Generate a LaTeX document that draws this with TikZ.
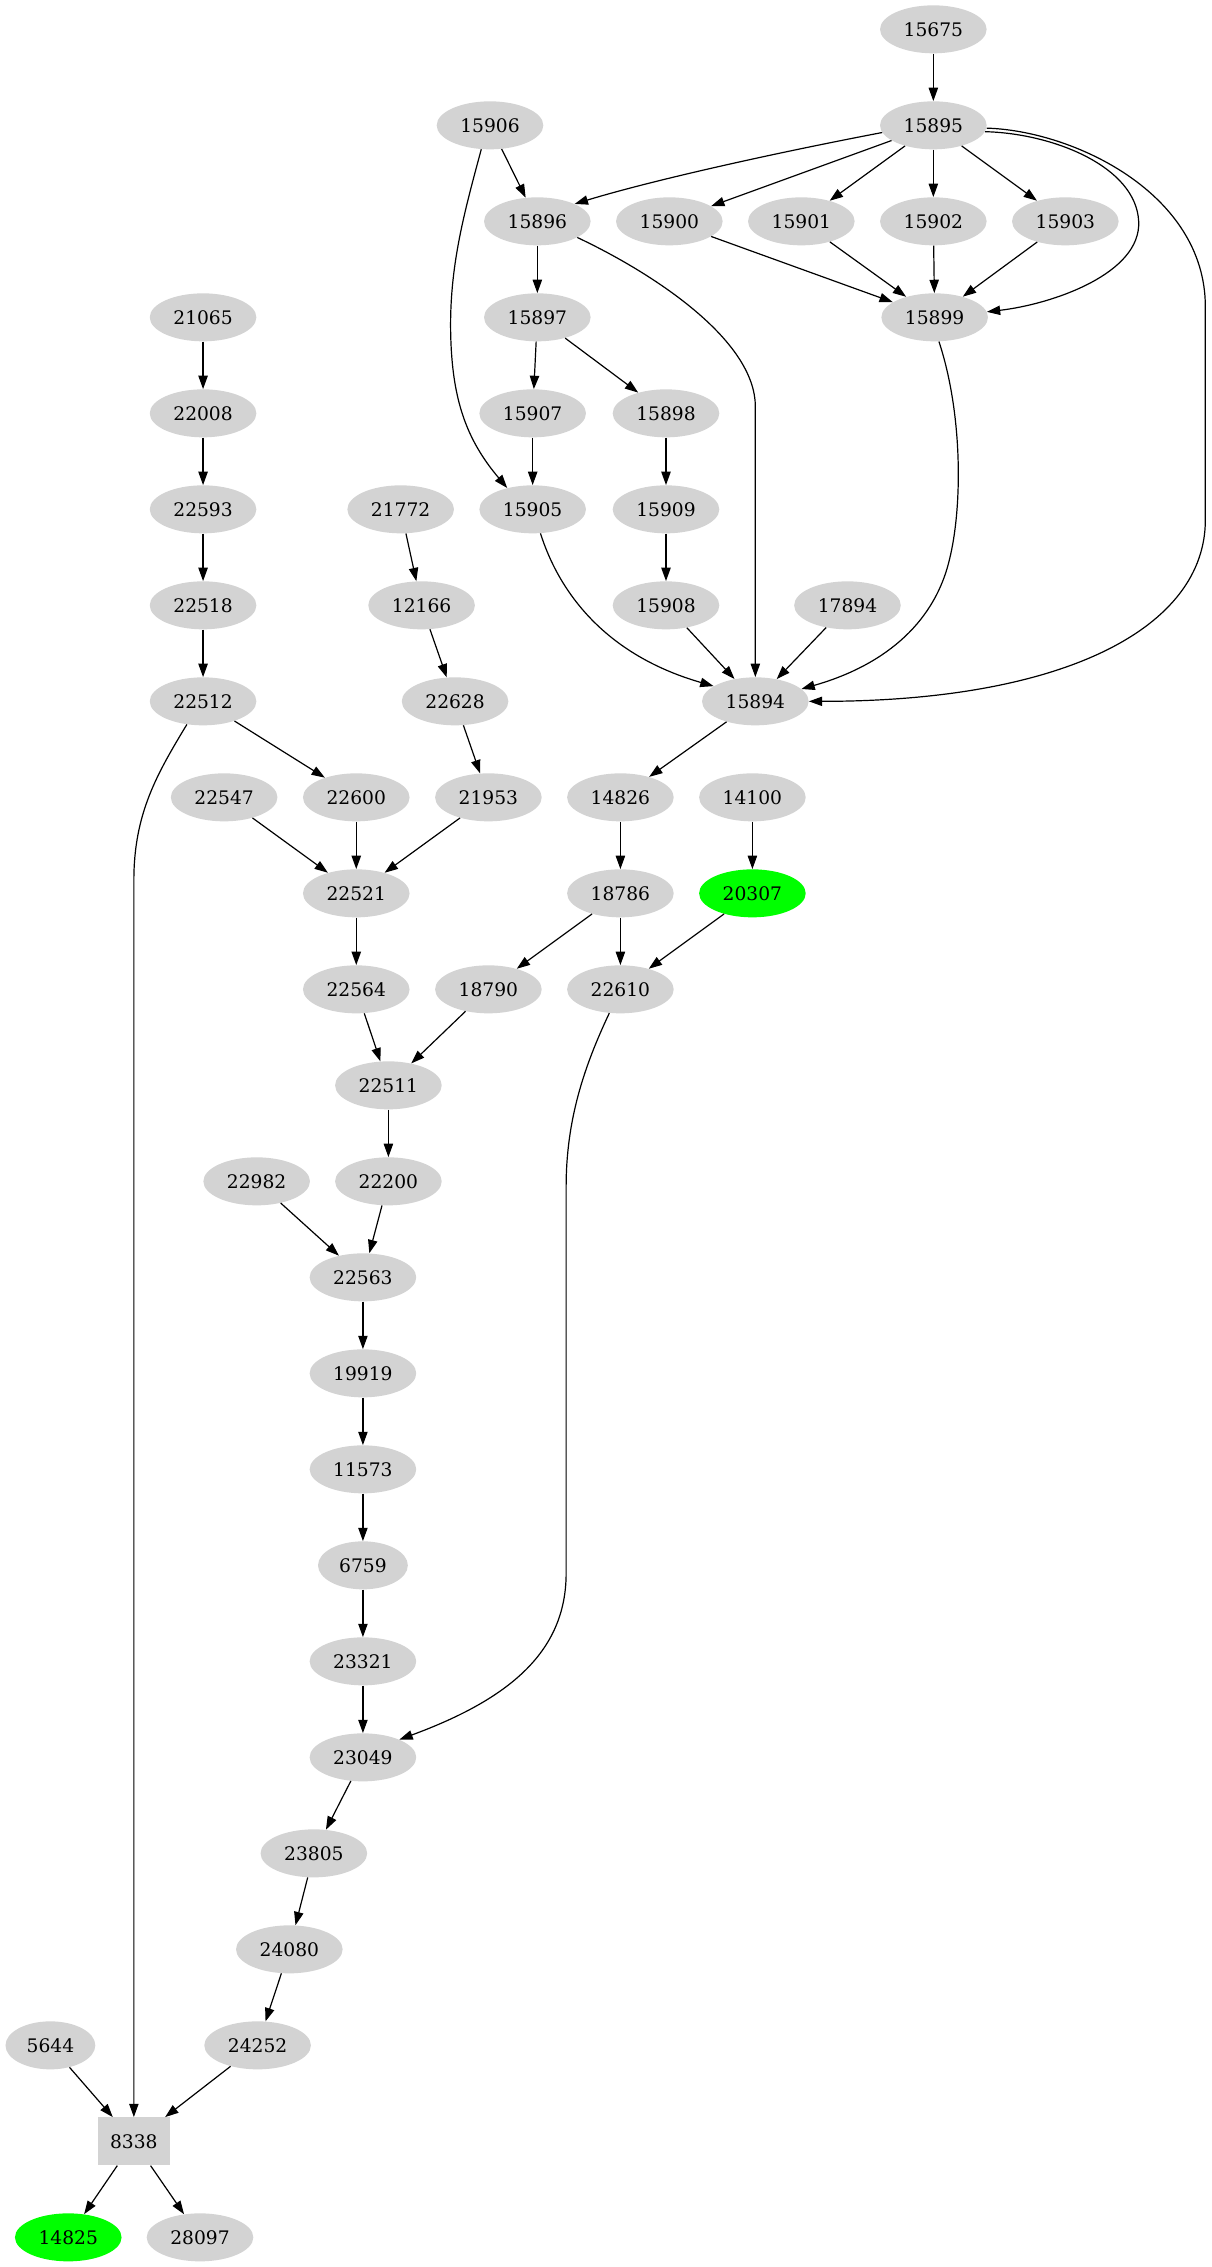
\documentclass[tikz,border=0pt]{standalone}
\usepackage{fontspec}
\setmainfont{DejaVu Serif}
\usetikzlibrary{shapes.geometric,arrows.meta}
\definecolor{gvgray}{HTML}{D3D3D3}
\definecolor{gvgreen}{HTML}{00FF00}
\begin{document}
\begin{tikzpicture}[x=1pt,y=1pt,
  gv/.style={ellipse, fill=gvgray, minimum height=36pt, inner xsep=6pt, inner ysep=0pt, font=\fontsize{14pt}{16pt}\selectfont},
  gvbox/.style={rectangle, fill=gvgray, minimum width=54pt, minimum height=36pt, inner sep=0pt, font=\fontsize{14pt}{16pt}\selectfont},
  hi/.style={fill=gvgreen},
  gvedge/.style={-{Triangle[length=10pt,width=7pt]}, line width=0.9pt}]
\useasboundingbox (0,0) rectangle (908.25,-1700.25);
% nodes
\node[gv] (n15675) at (700,-22) {15675};
\node[gv] (n15906) at (367.5,-94) {15906};
\node[gv] (n15895) at (700,-94) {15895};
\node[gv] (n15896) at (403,-166) {15896};
\node[gv] (n15900) at (502,-166) {15900};
\node[gv] (n15901) at (601,-166) {15901};
\node[gv] (n15902) at (700,-166) {15902};
\node[gv] (n15903) at (799,-166) {15903};
\node[gv] (n21065) at (152.3,-238) {21065};
\node[gv] (n15897) at (403,-238) {15897};
\node[gv] (n15899) at (701,-238) {15899};
\node[gv] (n22008) at (152.3,-310) {22008};
\node[gv] (n15907) at (399.5,-310) {15907};
\node[gv] (n15898) at (499.5,-310) {15898};
\node[gv] (n22593) at (152.3,-382) {22593};
\node[gv] (n21772) at (300.5,-382) {21772};
\node[gv] (n15905) at (399.5,-382) {15905};
\node[gv] (n15909) at (499.5,-382) {15909};
\node[gv] (n22518) at (152.3,-454) {22518};
\node[gv] (n12166) at (316.2,-454) {12166};
\node[gv] (n15908) at (499.5,-454) {15908};
\node[gv] (n17894) at (635.6,-454) {17894};
\node[gv] (n22512) at (152.3,-526) {22512};
\node[gv] (n22628) at (341.3,-526) {22628};
\node[gv] (n15894) at (566.5,-526) {15894};
\node[gv] (n22547) at (168.1,-598) {22547};
\node[gv] (n22600) at (267.2,-598) {22600};
\node[gv] (n21953) at (366.3,-598) {21953};
\node[gv] (n14826) at (465.3,-598) {14826};
\node[gv] (n14100) at (564.3,-598) {14100};
\node[gv] (n22521) at (267.2,-670) {22521};
\node[gv] (n18786) at (465.3,-670) {18786};
\node[gv,hi] (n20307) at (564.3,-670) {20307};
\node[gv] (n22564) at (267.2,-742) {22564};
\node[gv] (n18790) at (366.3,-742) {18790};
\node[gv] (n22610) at (465.3,-742) {22610};
\node[gv] (n22511) at (291.3,-814) {22511};
\node[gv] (n22982) at (192.5,-886) {22982};
\node[gv] (n22200) at (291.3,-886) {22200};
\node[gv] (n22563) at (272.2,-958) {22563};
\node[gv] (n19919) at (272.2,-1030) {19919};
\node[gv] (n11573) at (272.2,-1102) {11573};
\node[gv] (n6759) at (272.2,-1174) {6759};
\node[gv] (n23321) at (272.2,-1246) {23321};
\node[gv] (n23049) at (272.2,-1318) {23049};
\node[gv] (n23805) at (235.4,-1390) {23805};
\node[gv] (n24080) at (217,-1462) {24080};
\node[gv] (n5644) at (37.8,-1534) {5644};
\node[gv] (n24252) at (193.2,-1534) {24252};
\node[gvbox] (n8338) at (100.4,-1606) {8338};
\node[gv,hi] (n14825) at (51.2,-1678) {14825};
\node[gv] (n28097) at (150,-1678) {28097};
% straight edges
\draw[gvedge] (n15675) -- (n15895);
\draw[gvedge] (n15895.-172) .. controls (580,-115) and (490,-135) .. (n15896.25);
\draw[gvedge] (n15895) -- (n15900);
\draw[gvedge] (n15895) -- (n15901);
\draw[gvedge] (n15895) -- (n15902);
\draw[gvedge] (n15895) -- (n15903);
\draw[gvedge] (n15906) -- (n15896);
\draw[gvedge] (n15896) -- (n15897);
\draw[gvedge] (n15900) -- (n15899);
\draw[gvedge] (n15901) -- (n15899);
\draw[gvedge] (n15902) -- (n15899);
\draw[gvedge] (n15903) -- (n15899);
\draw[gvedge] (n15897) -- (n15907);
\draw[gvedge] (n15897) -- (n15898);
\draw[gvedge] (n15907) -- (n15905);
\draw[gvedge] (n15898) -- (n15909);
\draw[gvedge] (n15909) -- (n15908);
\draw[gvedge] (n15908) -- (n15894);
\draw[gvedge] (n17894) -- (n15894);
\draw[gvedge] (n21065) -- (n22008);
\draw[gvedge] (n22008) -- (n22593);
\draw[gvedge] (n22593) -- (n22518);
\draw[gvedge] (n22518) -- (n22512);
\draw[gvedge] (n22512) -- (n22600);
\draw[gvedge] (n21772) -- (n12166);
\draw[gvedge] (n12166) -- (n22628);
\draw[gvedge] (n22628) -- (n21953);
\draw[gvedge] (n22547) -- (n22521);
\draw[gvedge] (n22600) -- (n22521);
\draw[gvedge] (n21953) -- (n22521);
\draw[gvedge] (n15894) -- (n14826);
\draw[gvedge] (n14826) -- (n18786);
\draw[gvedge] (n14100) -- (n20307);
\draw[gvedge] (n18786) -- (n18790);
\draw[gvedge] (n18786) -- (n22610);
\draw[gvedge] (n20307) -- (n22610);
\draw[gvedge] (n22521) -- (n22564);
\draw[gvedge] (n22564) -- (n22511);
\draw[gvedge] (n18790) -- (n22511);
\draw[gvedge] (n22511) -- (n22200);
\draw[gvedge] (n22982) -- (n22563);
\draw[gvedge] (n22200) -- (n22563);
\draw[gvedge] (n22563) -- (n19919);
\draw[gvedge] (n19919) -- (n11573);
\draw[gvedge] (n11573) -- (n6759);
\draw[gvedge] (n6759) -- (n23321);
\draw[gvedge] (n23321) -- (n23049);
\draw[gvedge] (n23049) -- (n23805);
\draw[gvedge] (n23805) -- (n24080);
\draw[gvedge] (n24080) -- (n24252);
\draw[gvedge] (n5644) -- (n8338);
\draw[gvedge] (n24252) -- (n8338);
\draw[gvedge] (n8338) -- (n14825);
\draw[gvedge] (n8338) -- (n28097);
% curved edges
\draw[gvedge] (n15895.-7) .. controls (790,-100) and (852,-125) .. (854,-166) .. controls (856,-205) and (790,-228) .. (n15899.6);
\draw[gvedge] (n15895.-3) .. controls (805,-98) and (904,-145) .. (904,-230) -- (904,-390) .. controls (904,-470) and (800,-526) .. (n15894.east);
\draw[gvedge] (n15899.-80) .. controls (722,-310) and (722,-380) .. (712,-420) .. controls (700,-470) and (660,-500) .. (n15894.15);
\draw[gvedge] (n15896.-22) .. controls (490,-205) and (566.5,-255) .. (566.5,-305) -- (n15894.north);
\draw[gvedge] (n15906.-110) .. controls (348,-160) and (337,-200) .. (338,-250) .. controls (339,-300) and (350,-330) .. (n15905.140);
\draw[gvedge] (n15905.-72) .. controls (418,-440) and (450,-490) .. (n15894.160);
\draw[gvedge] (n22512.-125) .. controls (118,-580) and (100.4,-610) .. (100.4,-660) -- (n8338.north);
\draw[gvedge] (n22610.-115) .. controls (438,-800) and (424.6,-840) .. (424.6,-890) -- (424.6,-1180) .. controls (424.6,-1240) and (380,-1275) .. (n23049.26);
\end{tikzpicture}
\end{document}
